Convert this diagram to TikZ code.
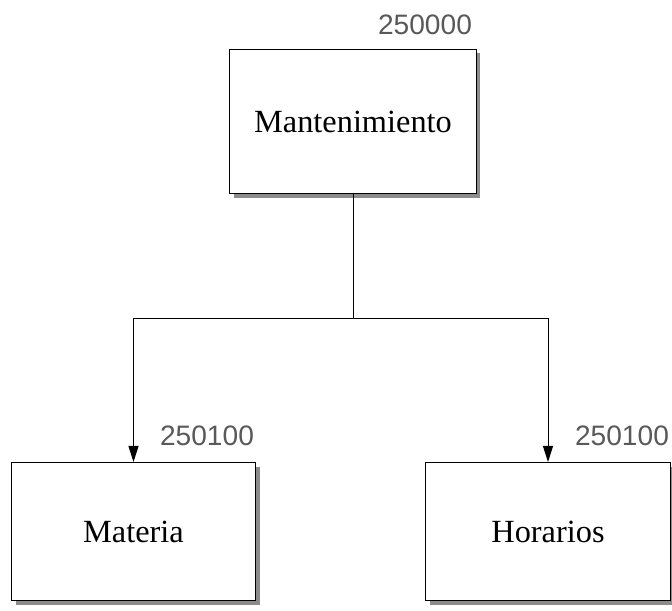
\documentclass[tikz,border=0pt]{standalone}
\usepackage{fontspec}
\setmainfont{Liberation Serif}
\newfontfamily\codefont{Liberation Sans}
\usetikzlibrary{arrows.meta, shadows, positioning}

\tikzset{
  modbox/.style={draw, line width=0.7pt, fill=white, inner sep=0pt,
    minimum width=6.1cm, minimum height=3.45cm,
    font=\fontsize{23}{26}\selectfont,
    drop shadow={shadow xshift=0.11cm, shadow yshift=-0.11cm, opacity=1, fill=black!45}},
  modcode/.style={font=\codefont\fontsize{20}{22}\selectfont, text=black!65, inner sep=0pt},
  link/.style={line width=0.7pt},
  arr/.style={line width=0.7pt, -{Triangle[length=0.4cm, width=0.25cm]}}
}

\begin{document}
\begin{tikzpicture}[x=0.025cm, y=-0.025cm]
\useasboundingbox (0,0) rectangle (672,611); % page size in pixels
% boxes
\node[modbox, minimum width=6.15cm, minimum height=3.62cm] (mant) at (353,121.5) {Mantenimiento};
\node[modbox] (materia) at (133.5,531.5) {Materia};
\node[modbox] (horarios) at (548,531.5) {Horarios};
% codes
\node[modcode] (codemant) at (425,25) {250000};
\node[modcode] (codemateria) at (207,436) {250100};
\node[modcode] (codehorarios) at (622,436) {250100};
% connectors
\coordinate (split) at (353,318);
\draw[link] (mant.south) -- (split);
\draw[arr] (split) -| (materia.north);
\draw[arr] (split) -| (horarios.north);
\end{tikzpicture}
\end{document}
